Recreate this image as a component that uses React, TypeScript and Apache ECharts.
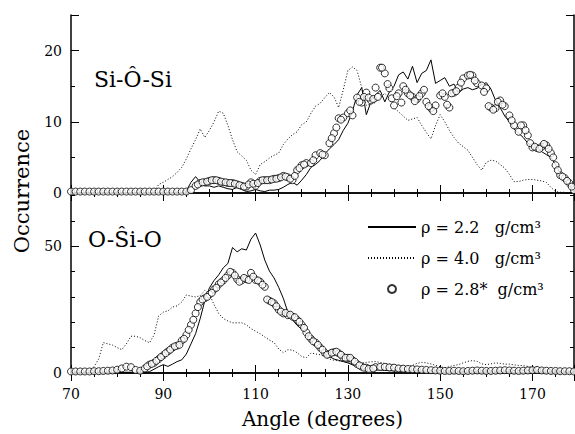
import React, { useEffect, useRef } from 'react';
import * as echarts from 'echarts';

// ---------- data ----------
const angles = Array.from({ length: 110 }, (_, i) => 70 + i); // 70 .. 179 deg, 1 deg steps

const xTickLabels = [70, 90, 110, 130, 150, 170];
const topYTickLabels = [0, 10, 20];
const bottomYTickLabels = [0, 50];

const seriesNames = ['ρ = 2.2   g/cm³', 'ρ = 4.0   g/cm³', 'ρ = 2.8*  g/cm³'];

// Si-O-Si (top panel)
const topSolid = [
  0, 0, 0, 0, 0, 0, 0, 0, 0, 0, 0, 0, 0, 0, 0, 0, 0, 0, 0, 0, 0, 0, 0, 0, 0,
  0.3, 1.5, 2.3, 1.5, 1.0, 1.0, 0.8, 1.0, 0.8, 0.6, 0.5, 0.8, 0.5, 0.2, 0.3,
  0.5, 0.3, 0.2, 0.4, 0.4, 0.5, 0.8, 1.2, 1.5, 1.1, 1.8, 2.6, 3.6, 4.0, 4.6,
  5.5, 6.2, 6.8, 7.5, 8.8, 9.8, 11.5, 13.8, 14.8, 11.0, 12.8, 13.8, 14.4, 12.8, 14.2,
  15.0, 16.6, 17.0, 16.0, 17.8, 15.5, 16.8, 17.2, 18.7, 15.4, 15.8, 16.2, 15.0, 15.3, 14.1,
  14.6, 14.8, 14.5, 14.7, 15.2, 15.5, 14.6, 13.0, 12.0, 10.8, 10.0, 9.0, 8.4, 7.8, 7.0,
  6.6, 6.2, 5.8, 5.4, 5.0, 4.0, 2.8, 2.0, 1.0, 0.4,
];
const topDotted = [
  0, 0, 0, 0, 0, 0, 0, 0, 0, 0, 0, 0, 0, 0, 0, 0, 0, 0,
  0.2, 1.2, 1.5, 1.9, 2.3, 2.9, 3.6, 4.8, 6.2, 7.5, 9.0, 7.8,
  8.8, 10.0, 11.5, 11.2, 9.5, 7.5, 5.8, 5.2, 4.6, 3.2, 2.6, 4.0,
  4.4, 4.9, 5.3, 5.6, 6.8, 7.6, 8.2, 8.6, 9.6, 10.0, 11.2, 12.2,
  12.6, 13.4, 14.1, 13.5, 12.0, 14.5, 17.2, 17.7, 17.2, 14.8, 12.3, 12.5,
  12.7, 13.4, 14.0, 13.3, 12.0, 11.4, 10.8, 10.2, 10.4, 10.6, 9.5, 8.5,
  7.6, 9.5, 11.0, 10.0, 8.8, 7.8, 7.0, 6.5, 6.0, 5.0, 4.0, 3.2,
  4.3, 4.6, 4.5, 4.0, 3.5, 2.6, 1.6, 1.6, 1.8, 1.9, 1.9, 1.8,
  1.7, 1.5, 0.8, 0.2, 0.1, 0.1, 0, 0,
];
const topCircles = [
  0.2, 0.2, 0.2, 0.2, 0.2, 0.2, 0.2, 0.2, 0.2, 0.2, 0.2, 0.2, 0.2,
  0.2, 0.2, 0.2, 0.2, 0.2, 0.2, 0.2, 0.2, 0.2, 0.2, 0.2, 0.2, 0.2,
  0.4, 1.0, 1.4, 1.5, 1.7, 1.8, 1.7, 1.5, 1.4, 1.4, 1.2, 1.0, 0.9, 1.5,
  1.0, 1.7, 1.8, 1.8, 2.0, 2.1, 2.4, 2.2, 1.8, 3.2, 3.9, 4.2, 4.2, 5.3,
  5.6, 5.3, 7.0, 8.4, 10.5, 10.6, 11.2, 10.9, 13.4, 12.7, 14.1, 13.0, 14.8, 17.6,
  16.8, 14.7, 12.3, 14.0, 15.0, 14.0, 13.5, 13.2, 14.0, 12.8, 11.9, 12.3, 13.7, 13.5,
  12.0, 14.1, 14.8, 16.1, 16.5, 16.5, 15.4, 15.1, 14.7, 12.0, 11.9, 13.0, 12.2, 10.9,
  9.5, 8.6, 9.5, 8.1, 6.4, 6.3, 6.5, 6.7, 5.6, 3.9, 2.5, 2.1, 1.4, 0.4,
];
const topCircleExtras: [number, number][] = [
  [97.5, 1.2], [98.5, 1.5], [99.5, 1.6], [100.5, 1.8], [101.5, 1.8], [102.5, 1.6],
  [103.5, 1.5], [104.5, 1.4], [105.5, 1.3], [106.5, 1.1], [107.5, 0.9], [108.5, 1.2],
  [109.5, 1.3], [110.5, 1.4], [111.5, 1.8], [112.5, 1.8], [113.5, 1.9], [114.5, 2.0],
  [115.5, 2.2], [116.5, 2.3], [117.5, 2.0], [118.5, 2.4], [119.5, 3.5], [120.5, 4.0],
  [122.5, 4.6], [124.5, 5.4], [126.5, 7.7], [127.5, 9.2], [128.5, 10.3], [130.5, 11.6],
  [132.5, 12.8], [133.5, 13.5], [134.5, 13.4], [135.5, 13.2], [136.5, 13.5], [137.4, 17.6],
  [138.6, 15.3], [139.5, 13.3], [140.6, 13.6], [141.6, 12.7], [142.5, 14.5], [143.5, 13.7],
  [144.5, 12.9], [145.5, 13.6], [146.5, 14.5], [147.5, 12.2], [148.5, 11.5], [150.5, 14.0],
  [151.5, 12.4], [152.5, 14.0], [153.5, 14.3], [154.5, 15.5], [156.5, 16.6], [157.5, 15.8],
  [159.5, 14.2], [160.5, 12.2], [161.5, 11.7], [162.5, 12.8], [163.5, 12.4], [165.5, 10.2],
  [167.5, 9.5], [168.5, 8.8], [169.5, 7.0], [170.5, 6.5], [171.5, 6.2], [172.5, 6.9],
  [173.5, 6.2], [174.5, 5.0], [175.5, 3.2], [176.5, 2.3], [177.5, 1.7], [178.5, 0.9],
];

// O-Si-O (bottom panel)
const bottomSolid = [
  0.3, 0.3, 0.3, 0.3, 0.3, 0.3, 0.3, 0.3, 0.3, 0.3, 0.3, 0.3, 0.3, 0.3, 0.3, 0.3, 0.3,
  0.5, 1.5, 2.5, 3.3, 2.6, 3.5, 4.5, 5.2, 7.5, 11.5, 15.5, 21.5, 28.5, 33.6,
  36.5, 38.7, 41.5, 43.2, 49.5, 47.8, 49.0, 48.5, 52.8, 55.2, 50.5, 44.5, 40.2, 37.5,
  33.8, 29.5, 24.0, 21.0, 18.8, 17.2, 15.5, 12.5, 10.5, 9.0, 7.5, 6.5, 5.5, 5.0,
  4.5, 4.0, 3.2, 2.6, 2.1, 1.8, 1.5, 1.3, 1.2, 1.0, 0.9, 0.9,
  0.8, 0.7, 0.8, 0.9, 0.8, 0.7, 0.8, 0.8, 0.9, 1.0, 0.8, 0.7, 0.8, 0.7, 0.6, 0.7,
  0.8, 0.7, 0.8, 0.9, 0.8, 0.7, 0.8, 0.7, 0.8, 0.9, 1.0, 1.1, 1.0, 0.9, 0.8, 0.7,
  0.8, 0.7, 0.6, 0.7, 0.6, 0.6, 0.5,
];
const bottomDotted = [
  0, 0, 0.2, 0.4, 1.0, 2.5, 5.5, 12.0, 11.5, 11.0,
  10.0, 9.2, 11.5, 14.5, 14.5, 13.9, 12.8, 11.9, 15.0, 22.5,
  24.0, 24.5, 26.0, 26.5, 28.0, 30.8, 30.3, 30.0, 30.5, 32.5,
  31.0, 27.0, 23.5, 21.5, 20.5, 19.8, 19.8, 19.8, 19.0, 17.5,
  16.5, 15.5, 14.2, 13.0, 12.0, 9.5, 8.0, 9.2, 9.0, 8.0,
  6.5, 6.0, 7.9, 7.5, 7.2, 6.5, 5.5, 5.0, 4.8, 4.5,
  4.3, 4.2, 4.0, 4.0, 4.2, 4.4, 4.5, 4.2, 3.8, 3.5,
  3.3, 3.0, 2.8, 2.5, 3.0, 3.8, 4.2, 4.0, 3.6, 3.0,
  2.5, 2.1, 2.5, 3.0, 3.3, 4.0, 4.6, 4.9, 4.6, 3.6,
  3.3, 3.6, 4.0, 3.8, 3.5, 3.5, 3.2, 3.0, 2.9, 2.6,
  2.3, 2.1, 1.8, 1.5, 1.3, 1.0, 0.8, 0.5, 0.4, 0.3,
];
const bottomCircles = [
  0.6, 0.6, 0.6, 0.6, 0.6, 0.7, 0.7, 0.8, 0.9, 1.0,
  1.3, 1.8, 2.5, 2.3, 1.2, 0.9, 1.8, 3.3, 4.0, 5.5,
  7.0, 8.5, 10.0, 10.8, 12.8, 15.0, 19.0, 23.5, 28.0, 29.5,
  31.0, 33.0, 35.0, 36.5, 38.5, 39.5, 37.0, 36.5, 37.0, 39.5,
  36.7, 36.0, 34.0, 28.5, 27.5, 25.0, 23.5, 22.8, 22.2, 21.0,
  19.0, 16.0, 13.5, 12.0, 10.0, 8.0, 7.5, 8.2, 7.8, 6.2,
  6.0, 5.0, 3.5, 2.5, 2.1, 1.5, 2.3, 2.4, 2.4, 2.2,
  2.1, 1.8, 1.7, 1.6, 1.5, 1.4, 1.3, 1.2, 1.1, 1.0,
  0.9, 0.8, 0.8, 0.9, 0.8, 0.7, 0.8, 0.9, 1.0, 0.9,
  0.8, 0.8, 0.9, 1.0, 1.1, 1.0, 0.9, 0.8, 0.9, 1.0,
  1.1, 1.2, 1.0, 0.9, 0.8, 0.8, 0.7, 0.7, 0.7, 0.6,
];
const bottomCircleExtras: [number, number][] = [
  [86.5, 2.6], [87.5, 3.6], [88.5, 4.8], [89.5, 6.3], [90.5, 7.8], [91.5, 9.2],
  [92.5, 10.5], [93.5, 11.1], [94.5, 13.5], [95.5, 17.0], [96.5, 21.0], [97.5, 26.0],
  [98.5, 29.0], [99.5, 30.0], [100.5, 31.6], [101.5, 33.6], [102.5, 35.7], [103.5, 37.5],
  [104.5, 39.9], [105.5, 38.5], [106.5, 36.0], [107.5, 37.5], [108.5, 36.7], [109.5, 38.0],
  [110.5, 36.5], [111.5, 34.8], [112.5, 29.0], [113.5, 28.0], [114.5, 26.3], [115.5, 24.2],
  [116.5, 23.7], [117.5, 23.0], [118.5, 22.0], [119.5, 20.2], [120.5, 17.8], [121.5, 14.5],
  [122.5, 12.5], [123.5, 11.1], [124.5, 9.2], [125.5, 7.2], [126.5, 8.0], [127.5, 8.4],
  [128.5, 7.2], [129.5, 6.0], [130.5, 6.0], [131.5, 4.5], [132.5, 3.0], [133.5, 2.1],
  [134.5, 1.6], [135.5, 1.8],
];

// ---------- styling ----------
const FONT = "'DejaVu Serif', 'Liberation Sans', sans-serif";
const BLACK = '#000';

const axisLine = { show: true, lineStyle: { color: BLACK, width: 1.5 } };
const shortTick = { show: true, inside: true, length: 4, lineStyle: { color: BLACK, width: 1 } };
const longTick = { show: true, inside: true, length: 8, lineStyle: { color: BLACK, width: 1 } };
const labelStyle = { color: BLACK, fontFamily: FONT, fontSize: 14 };

function xAxesFor(gridIndex: number, withLabels: boolean, name?: string) {
  const base = { type: 'value', gridIndex, splitLine: { show: false } };
  return [
    {
      ...base,
      position: 'bottom',
      min: 70,
      max: 179,
      interval: 5,
      axisLine,
      axisTick: shortTick,
      axisLabel: withLabels
        ? {
            show: true,
            ...labelStyle,
            margin: 14,
            formatter: (v: number) => (xTickLabels.includes(v) ? String(v) : ''),
          }
        : { show: false },
      name: name || '',
      nameLocation: 'middle',
      nameGap: 36,
      nameTextStyle: { color: BLACK, fontFamily: FONT, fontSize: 20 },
    },
    // long ticks at the labelled angles (axis counted as angle - 70)
    { ...base, position: 'bottom', min: 0, max: 109, interval: 20, axisLine: { show: false }, axisTick: longTick, axisLabel: { show: false } },
    { ...base, position: 'top', min: 70, max: 179, interval: 5, axisLine, axisTick: shortTick, axisLabel: { show: false } },
    { ...base, position: 'top', min: 0, max: 109, interval: 20, axisLine: { show: false }, axisTick: longTick, axisLabel: { show: false } },
  ];
}

function yAxesFor(gridIndex: number, max: number, minorStep: number, majorStep: number, labels: number[]) {
  const base = { type: 'value', gridIndex, min: 0, max, splitLine: { show: false } };
  return [
    {
      ...base,
      position: 'left',
      interval: minorStep,
      axisLine,
      axisTick: shortTick,
      axisLabel: { show: true, ...labelStyle, margin: 9, formatter: (v: number) => (labels.includes(v) ? String(v) : '') },
    },
    { ...base, position: 'left', interval: majorStep, axisLine: { show: false }, axisTick: longTick, axisLabel: { show: false } },
    { ...base, position: 'right', interval: minorStep, axisLine, axisTick: shortTick, axisLabel: { show: false } },
    { ...base, position: 'right', interval: majorStep, axisLine: { show: false }, axisTick: longTick, axisLabel: { show: false } },
  ];
}

function lineSeries(name: string, values: number[], xi: number, yi: number, dotted: boolean) {
  return {
    type: 'line',
    name,
    xAxisIndex: xi,
    yAxisIndex: yi,
    data: angles.map((a, i) => [a, values[i]]),
    symbol: 'none',
    showSymbol: false,
    lineStyle: { color: BLACK, width: 1, type: dotted ? [1, 2] : 'solid' },
    itemStyle: { color: BLACK, opacity: 0 },
    z: 2,
  };
}

function circleSeries(name: string, values: number[], extras: [number, number][], xi: number, yi: number) {
  return {
    type: 'scatter',
    name,
    xAxisIndex: xi,
    yAxisIndex: yi,
    data: angles.map((a, i) => [a, values[i]]).concat(extras),
    symbol: 'circle',
    symbolSize: 7,
    itemStyle: { color: '#fff', borderColor: BLACK, borderWidth: 1 },
    clip: true,
    z: 3,
  };
}

export default function App() {
  const ref = useRef<HTMLDivElement>(null);

  useEffect(() => {
    if (!ref.current) return;
    const chart = echarts.init(ref.current, undefined, { renderer: 'svg' });

    const textStyle = (text: string, size: number, align: string, vAlign: string) => ({
      text,
      fontSize: size,
      fontFamily: FONT,
      fill: BLACK,
      align,
      verticalAlign: vAlign,
      textAlign: align,
      textVerticalAlign: vAlign,
    });

    const option: any = {
      animation: false,
      backgroundColor: '#fff',
      textStyle: { fontFamily: FONT },
      grid: [
        { left: 71, top: 15, width: 503, height: 178, show: false, containLabel: false, outerBoundsMode: 'none' },
        { left: 71, top: 193, width: 503, height: 180, show: false, containLabel: false, outerBoundsMode: 'none' },
      ],
      xAxis: [...xAxesFor(0, false), ...xAxesFor(1, true, 'Angle (degrees)')],
      yAxis: [...yAxesFor(0, 25, 5, 10, topYTickLabels), ...yAxesFor(1, 71, 10, 50, bottomYTickLabels)],
      legend: {
        orient: 'vertical',
        left: 362,
        top: 214,
        itemWidth: 48,
        itemHeight: 8,
        itemGap: 15,
        selectedMode: false,
        textStyle: { color: BLACK, fontFamily: FONT, fontSize: 16 },
        data: [
          { name: seriesNames[0], itemStyle: { opacity: 0 } },
          { name: seriesNames[1], itemStyle: { opacity: 0 } },
          { name: seriesNames[2] },
        ],
      },
      series: [
        lineSeries(seriesNames[0], topSolid, 0, 0, false),
        lineSeries(seriesNames[1], topDotted, 0, 0, true),
        circleSeries(seriesNames[2], topCircles, topCircleExtras, 0, 0),
        lineSeries(seriesNames[0], bottomSolid, 4, 4, false),
        lineSeries(seriesNames[1], bottomDotted, 4, 4, true),
        circleSeries(seriesNames[2], bottomCircles, bottomCircleExtras, 4, 4),
      ],
      graphic: [
        { type: 'text', x: 94, y: 79, style: textStyle('Si-Ô-Si', 22, 'left', 'middle'), z: 10 },
        { type: 'text', x: 88, y: 239, style: textStyle('O-Ŝi-O', 22, 'left', 'middle'), z: 10 },
        { type: 'text', x: 22, y: 191, rotation: Math.PI / 2, style: textStyle('Occurrence', 21, 'center', 'middle'), z: 10 },
      ],
    };

    chart.setOption(option);
    return () => chart.dispose();
  }, []);

  return (
    <div
      ref={ref}
      style={{ position: 'absolute', left: 0, top: 0, width: 575, height: 434, background: '#fff' }}
    />
  );
}
